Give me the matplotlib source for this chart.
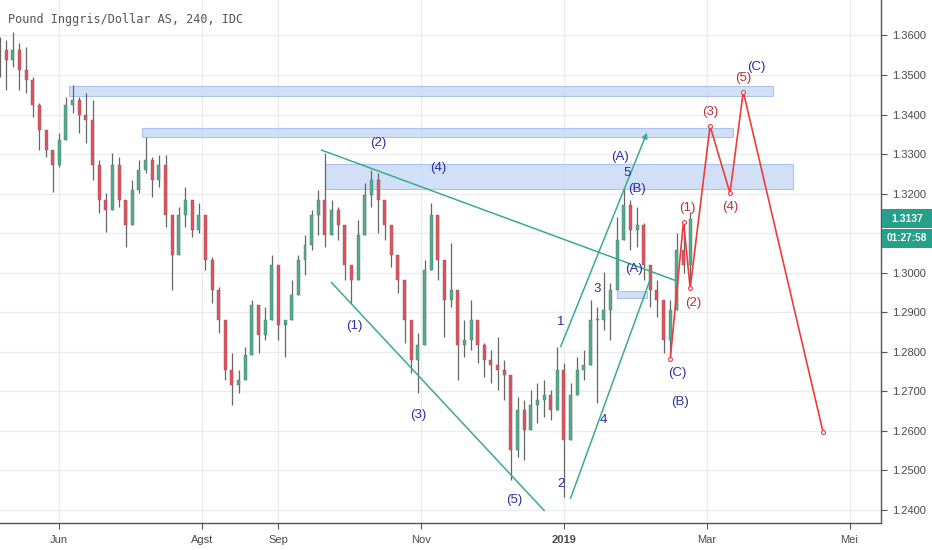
import numpy as np
import pandas as pd
import matplotlib
matplotlib.use("Agg")
import matplotlib.pyplot as plt

# GBP/USD, 4h chart, resampled to one candle per 2 trading days
candle_start = "2018-05-08"
close = [
    1.3563, 1.3538, 1.3563, 1.3512, 1.3487, 1.3424, 1.3361, 1.3310, 1.3272, 1.3336,
    1.3424, 1.3437, 1.3399, 1.3386, 1.3272, 1.3184, 1.3159, 1.3272, 1.3184, 1.3121,
    1.3209, 1.3260, 1.3285, 1.3234, 1.3272, 1.3146, 1.3045, 1.3146, 1.3184, 1.3108,
    1.3146, 1.3032, 1.2956, 1.2880, 1.2754, 1.2716, 1.2729, 1.2792, 1.2918, 1.2842,
    1.2880, 1.3019, 1.2868, 1.2880, 1.2944, 1.3032, 1.3070, 1.3146, 1.3184, 1.3095,
    1.3159, 1.3121, 1.3019, 1.2982, 1.3095, 1.3196, 1.3234, 1.3184, 1.3121, 1.3045,
    1.2982, 1.2880, 1.2779, 1.2817, 1.3007, 1.3146, 1.3032, 1.2931, 1.2956, 1.2817,
    1.2830, 1.2880, 1.2817, 1.2779, 1.2767, 1.2754, 1.2741, 1.2552, 1.2653, 1.2602,
    1.2665, 1.2678, 1.2691, 1.2653, 1.2754, 1.2577, 1.2691, 1.2754, 1.2767, 1.2880,
    1.2880, 1.2906, 1.2956, 1.3083, 1.3171, 1.3108, 1.3121, 1.3019, 1.2956, 1.2931,
    1.2830, 1.2906, 1.3057, 1.3020, 1.3137,
]
high = [
    1.3596, 1.3588, 1.3609, 1.3581, 1.3571, 1.3495, 1.3429, 1.3353, 1.3310, 1.3353,
    1.3444, 1.3475, 1.3444, 1.3454, 1.3437, 1.3285, 1.3202, 1.3303, 1.3293, 1.3184,
    1.3234, 1.3285, 1.3343, 1.3293, 1.3298, 1.3298, 1.3100, 1.3166, 1.3217, 1.3141,
    1.3176, 1.3141, 1.3040, 1.2964, 1.2830, 1.2797, 1.2754, 1.2812, 1.2931, 1.2888,
    1.2913, 1.3045, 1.2949, 1.2880, 1.2982, 1.3045, 1.3095, 1.3159, 1.3209, 1.3303,
    1.3184, 1.3166, 1.3100, 1.3014, 1.3133, 1.3227, 1.3260, 1.3252, 1.3166, 1.3100,
    1.3040, 1.2931, 1.2848, 1.2848, 1.3032, 1.3176, 1.3116, 1.2999, 1.3075, 1.2913,
    1.2880, 1.2931, 1.2848, 1.2822, 1.2805, 1.2837, 1.2779, 1.2721, 1.2686, 1.2678,
    1.2703, 1.2721, 1.2729, 1.2703, 1.2812, 1.2772, 1.2721, 1.2787, 1.2805, 1.2931,
    1.2913, 1.3002, 1.2974, 1.3141, 1.3217, 1.3184, 1.3166, 1.3126, 1.2982, 1.2982,
    1.2913, 1.2931, 1.3100, 1.3128, 1.3154,
]
low = [
    1.3495, 1.3462, 1.3520, 1.3462, 1.3454, 1.3394, 1.3310, 1.3293, 1.3204, 1.3267,
    1.3336, 1.3404, 1.3353, 1.3328, 1.3234, 1.3151, 1.3103, 1.3217, 1.3166, 1.3065,
    1.3141, 1.3202, 1.3252, 1.3191, 1.3217, 1.3116, 1.2956, 1.3075, 1.3116, 1.3090,
    1.3100, 1.3007, 1.2923, 1.2848, 1.2729, 1.2666, 1.2696, 1.2729, 1.2863, 1.2797,
    1.2830, 1.2982, 1.2830, 1.2787, 1.2898, 1.2956, 1.2994, 1.3057, 1.3095, 1.3065,
    1.3100, 1.3083, 1.2982, 1.2923, 1.3032, 1.3126, 1.3166, 1.3100, 1.3083, 1.3014,
    1.2949, 1.2822, 1.2746, 1.2696, 1.2964, 1.3083, 1.2982, 1.2837, 1.2913, 1.2729,
    1.2787, 1.2805, 1.2772, 1.2736, 1.2721, 1.2703, 1.2678, 1.2476, 1.2534, 1.2526,
    1.2602, 1.2620, 1.2635, 1.2628, 1.2653, 1.2433, 1.2610, 1.2721, 1.2729, 1.2837,
    1.2671, 1.2855, 1.2830, 1.3014, 1.3083, 1.3057, 1.3065, 1.2982, 1.2913, 1.2888,
    1.2797, 1.2779, 1.2982, 1.2999, 1.2975,
]

# blue resistance zones: start, end, lower price, upper price
zone_start = ["2018-06-06", "2018-07-06", "2018-09-21", "2019-01-23"]
zone_end = ["2019-03-29", "2019-03-13", "2019-04-08", "2019-02-05"]
zone_low = [1.3446, 1.3342, 1.3211, 1.2937]
zone_high = [1.3473, 1.3367, 1.3274, 1.2955]

# green trend lines: (start date, start price, end date, end price)
trend_lines = [
    ("2018-09-20", 1.3310, "2019-02-18", 1.2979),
    ("2018-09-25", 1.2975, "2018-12-24", 1.2399),
    ("2019-01-03", 1.2430, "2019-02-06", 1.2984),
]
arrow_line = ("2018-12-31", 1.2813, "2019-02-05", 1.3354)

# red projected wave path
wave_dates = ["2019-02-14", "2019-02-20", "2019-02-22", "2019-03-04",
              "2019-03-12", "2019-03-18", "2019-04-19"]
wave_prices = [1.2781, 1.3129, 1.2961, 1.3371, 1.3201, 1.3458, 1.2598]

blue_labels = [
    ("(2)", "2018-10-15", 1.3328), ("(4)", "2018-11-08", 1.3265),
    ("(1)", "2018-10-04", 1.2865), ("(3)", "2018-10-31", 1.2640),
    ("(5)", "2018-12-11", 1.2425), ("1", "2018-12-31", 1.2875),
    ("2", "2018-12-31", 1.2466), ("3", "2019-01-15", 1.2959),
    ("4", "2019-01-17", 1.2628), ("5", "2019-01-28", 1.3253),
    ("(A)", "2019-01-24", 1.3292), ("(B)", "2019-01-31", 1.3211),
    ("(A)", "2019-01-30", 1.3009), ("(C)", "2019-02-18", 1.2746),
    ("(B)", "2019-02-19", 1.2674), ("(C)", "2019-03-22", 1.3519),
]
red_labels = [
    ("(1)", "2019-02-21", 1.3163), ("(2)", "2019-02-25", 1.2923),
    ("(3)", "2019-03-04", 1.3406), ("(4)", "2019-03-12", 1.3167),
    ("(5)", "2019-03-18", 1.3492),
]

month_dates = ["2018-06-01", "2018-08-01", "2018-09-01", "2018-11-01",
               "2019-01-01", "2019-03-01", "2019-05-01"]
month_labels = ["Jun", "Agst", "Sep", "Nov", "2019", "Mar", "Mei"]
price_ticks = np.arange(1.24, 1.3601, 0.01)
last_price = 1.3137
countdown = "01:27:58"

BASE = "2018-06-01"


def bx(d):
    # trading-day position, like the bar index of the chart
    return np.busday_count(BASE, np.array(d, dtype="datetime64[D]"))


sans = "Liberation Sans"
navy = "#2b2ba6"
wine = "#b8323a"
teal = "#3aab8f"
grid_c = "#ececec"

fig = plt.figure(figsize=(9.32, 5.5), dpi=100)
ax = fig.add_axes([0, 0.0496, 0.945, 0.9504])

# candles
cdates = pd.bdate_range(candle_start, periods=len(close), freq="2B")
cx = bx(cdates.strftime("%Y-%m-%d").tolist())
c = np.array(close)
o = np.concatenate([[c[0]], c[:-1]])
h = np.maximum(np.array(high), np.maximum(o, c))
l = np.minimum(np.array(low), np.minimum(o, c))
up = c >= o
ax.vlines(cx, l, h, color="#666666", lw=0.9, zorder=3)
body_h = np.abs(c - o)
body_h = np.where(body_h < 0.0002, 0.0002, body_h)
ax.bar(cx[up], body_h[up], bottom=np.minimum(o, c)[up], width=0.9,
       color="#4cb08e", edgecolor="#666666", lw=0.3, zorder=4)
ax.bar(cx[~up], body_h[~up], bottom=np.minimum(o, c)[~up], width=0.9,
       color="#e8505b", edgecolor="#666666", lw=0.3, zorder=4)

# zones
for s, e, lo, hi in zip(zone_start, zone_end, zone_low, zone_high):
    x0, x1 = bx(s), bx(e)
    ax.add_patch(plt.Rectangle((x0, lo), x1 - x0, hi - lo, facecolor="#c6d8f6",
                               edgecolor="#9db9ec", lw=0.8, alpha=0.8, zorder=2))

# trend lines
for d0, p0, d1, p1 in trend_lines:
    ax.plot([bx(d0), bx(d1)], [p0, p1], color=teal, lw=1.1, zorder=5)
d0, p0, d1, p1 = arrow_line
ax.annotate("", xy=(bx(d1), p1), xytext=(bx(d0), p0), zorder=5,
            arrowprops=dict(arrowstyle="-|>", color=teal, lw=1.1,
                            mutation_scale=8, shrinkA=0, shrinkB=0))

# projected wave
ax.plot(bx(wave_dates), wave_prices, color="#ee3b3b", lw=1.2, zorder=6,
        marker="o", ms=2.8, mfc="white", mec="#ee3b3b", mew=0.8)

for t, d, p in blue_labels:
    ax.text(bx(d), p, t, color=navy, fontsize=9.5, family=sans,
            ha="center", va="center", zorder=7)
for t, d, p in red_labels:
    ax.text(bx(d), p, t, color=wine, fontsize=9.5, family=sans,
            ha="center", va="center", zorder=7)

# axes
ax.set_xlim(-17.86, 247.4)
ax.set_ylim(1.23679, 1.36895)
ax.set_yticks(price_ticks)
# the 1.3100 label sits under the price/countdown boxes
ax.set_yticklabels(["" if abs(v - 1.31) < 1e-6 else f"{v:.4f}" for v in price_ticks])
ax.yaxis.tick_right()
ax.set_xticks(bx(month_dates))
ax.set_xticklabels(month_labels)
for lab in ax.get_xticklabels():
    if lab.get_text() == "2019":
        lab.set_fontweight("bold")
ax.tick_params(axis="y", direction="out", length=4, width=0.8, color="#555555",
               labelsize=8, labelcolor="#4a4a4a", pad=4)
ax.tick_params(axis="x", direction="out", length=4, width=0.8, color="#555555",
               labelsize=8, labelcolor="#4a4a4a", pad=5)
for lab in ax.get_xticklabels() + ax.get_yticklabels():
    lab.set_family(sans)
ax.grid(True, color=grid_c, lw=1, zorder=0)
ax.set_axisbelow(True)
for side in ["left", "top"]:
    ax.spines[side].set_visible(False)
ax.spines["right"].set_color("#555555")
ax.spines["bottom"].set_color("#555555")
ax.spines["right"].set_linewidth(1)
ax.spines["bottom"].set_linewidth(1)

fig.text(8 / 932, 1 - 19.5 / 550, "Pound Inggris/Dollar AS, 240, IDC",
         family="DejaVu Sans Mono", fontsize=8.5, color="#555555", va="center")

# last price / countdown boxes on the price scale
ytop = ax.transData.transform((0, last_price))[1]
fy = ytop / fig.dpi / 5.5
fig.patches.append(plt.Rectangle((881.5 / 932, fy - 9.5 / 550), 50.5 / 932, 19 / 550,
                                 transform=fig.transFigure, facecolor="#26a08a",
                                 edgecolor="none", zorder=10))
fig.patches.append(plt.Rectangle((881.5 / 932, fy - 29 / 550), 50.5 / 932, 18.5 / 550,
                                 transform=fig.transFigure, facecolor="#26a08a",
                                 edgecolor="none", zorder=10))
fig.text(907 / 932, fy, f"{last_price:.4f}", color="white", fontsize=7.5,
         family=sans, fontweight="bold", ha="center", va="center", zorder=11)
fig.text(907 / 932, fy - 19.8 / 550, countdown, color="white", fontsize=7.2,
         family=sans, fontweight="bold", ha="center", va="center", zorder=11)

fig.savefig("out.png", dpi=100)
